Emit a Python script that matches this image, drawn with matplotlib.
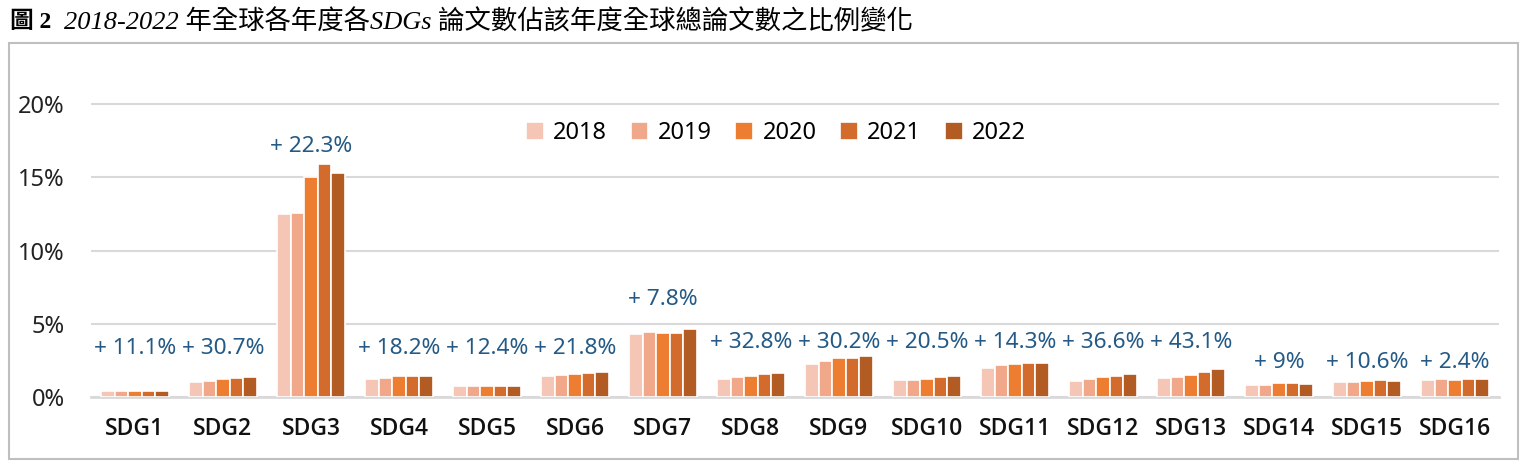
import numpy as np
import matplotlib.pyplot as plt
from matplotlib.patches import Rectangle

plt.rcParams['font.family'] = ['Noto Sans', 'DejaVu Sans']

categories = ['SDG%d' % i for i in range(1, 17)]
years = ['2018', '2019', '2020', '2021', '2022']

# share of global papers (%) per SDG, per year
v2018 = [0.40, 1.03, 12.5, 1.25, 0.75, 1.46, 4.31, 1.23, 2.24, 1.19, 2.03, 1.14, 1.30, 0.84, 1.03, 1.21]
v2019 = [0.41, 1.10, 12.6, 1.32, 0.75, 1.53, 4.47, 1.37, 2.47, 1.19, 2.19, 1.26, 1.37, 0.84, 1.07, 1.26]
v2020 = [0.41, 1.26, 15.0, 1.44, 0.78, 1.62, 4.36, 1.46, 2.65, 1.26, 2.26, 1.37, 1.53, 0.96, 1.14, 1.21]
v2021 = [0.42, 1.32, 15.9, 1.48, 0.80, 1.69, 4.36, 1.58, 2.69, 1.37, 2.31, 1.46, 1.71, 0.96, 1.19, 1.26]
v2022 = [0.46, 1.39, 15.3, 1.48, 0.80, 1.73, 4.66, 1.69, 2.81, 1.42, 2.35, 1.58, 1.92, 0.91, 1.14, 1.26]
growth = ['11.1', '30.7', '22.3', '18.2', '12.4', '21.8', '7.8', '32.8', '30.2', '20.5',
          '14.3', '36.6', '43.1', '9', '10.6', '2.4']

# where the growth labels sit (in % units)
label_y = [3.36, 3.36, 17.1, 3.36, 3.36, 3.36, 6.64, 3.77, 3.77, 3.77, 3.77, 3.77, 3.77, 2.4, 2.4, 2.4]

colors = ['#F5C6B5', '#F0A78A', '#ED7D31', '#D26B2B', '#B25C24']
series = [v2018, v2019, v2020, v2021, v2022]

fig = plt.figure(figsize=(15.28, 4.72), dpi=100)
ax = fig.add_axes([91 / 1528, 74.7 / 472, 1408 / 1528, 322.6 / 472])

x = np.arange(len(categories))
w = 0.155
for i, (vals, yr) in enumerate(zip(series, years)):
    ax.bar(x + (i - 2) * w, vals, w, color=colors[i], edgecolor='white', linewidth=1.2,
           label=yr, zorder=3)

for xi, g, ly in zip(x, growth, label_y):
    ax.text(xi, ly, '+ %s%%' % g, ha='center', va='center', fontsize=16.3, color='#245A85')

ax.set_xlim(-0.5, len(categories) - 0.5)
ax.set_ylim(0, 22)
ax.set_yticks([0, 5, 10, 15, 20])
ax.set_yticklabels(['0%', '5%', '10%', '15%', '20%'])
ax.grid(axis='y', color='#D9D9D9', linewidth=1.5, zorder=0)
ax.set_xticks(x)
ax.set_xticklabels(categories, fontweight='semibold', family='Open Sans')
ax.tick_params(axis='x', length=0, pad=14, labelsize=16.5, labelcolor='#111111')
ax.tick_params(axis='y', length=0, pad=19, labelsize=17, labelcolor='#222222')
for s in ['top', 'right', 'left']:
    ax.spines[s].set_visible(False)
ax.spines['bottom'].set_color('#D9D9D9')
ax.spines['bottom'].set_linewidth(2)

ax.legend(loc='center', bbox_to_anchor=(0.4865, 0.819), ncol=5, frameon=False,
          fontsize=17, handlelength=0.75, handleheight=0.75, handletextpad=0.4,
          columnspacing=1.0)

# frame around the chart
fig.patches.append(Rectangle((9 / 1528, 1 - 459 / 472), 1509 / 1528, 416 / 472,
                             transform=fig.transFigure, fill=False,
                             edgecolor='#BFBFBF', linewidth=1.5))

fig.text(10 / 1528, 1 - 22 / 472, '圖 2', fontsize=17, fontweight='bold', va='center',
         family=['Liberation Serif', 'Noto Sans CJK TC'])
fig.text(64 / 1528, 1 - 22 / 472,
         '2018-2022 年全球各年度各SDGs 論文數佔該年度全球總論文數之比例變化',
         fontsize=19, style='italic', va='center',
         family=['Liberation Serif', 'Noto Sans CJK TC'])

plt.savefig('out.png', dpi=100)
